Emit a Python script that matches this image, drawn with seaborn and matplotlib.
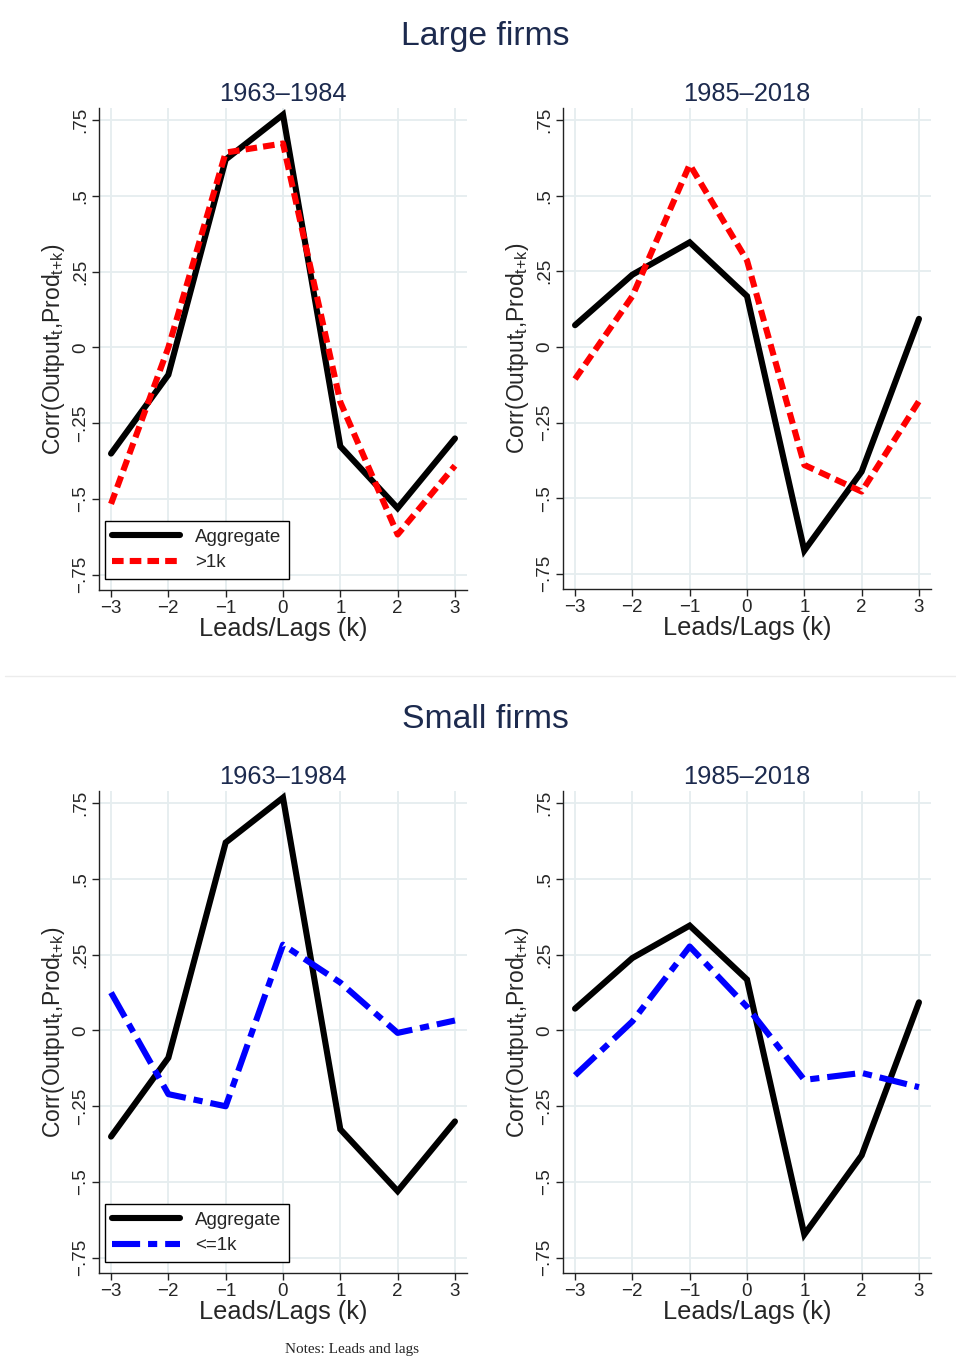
import numpy as np
import pandas as pd
import matplotlib
matplotlib.use("Agg")
import matplotlib.pyplot as plt
from matplotlib.lines import Line2D
import seaborn as sns

sns.set_style("white")
plt.rcParams['font.family'] = ['Liberation Sans', 'DejaVu Sans']
plt.rcParams['mathtext.default'] = 'regular'

# ---- data ----
k = [-3, -2, -1, 0, 1, 2, 3]
agg_6384 = [-0.35, -0.09, 0.62, 0.768, -0.326, -0.53, -0.30]
large_6384 = [-0.516, 0.0, 0.643, 0.673, -0.18, -0.617, -0.39]
small_6384 = [0.125, -0.21, -0.25, 0.283, 0.158, -0.008, 0.033]
agg_8518 = [0.072, 0.239, 0.346, 0.168, -0.673, -0.412, 0.093]
large_8518 = [-0.106, 0.168, 0.603, 0.286, -0.39, -0.478, -0.179]
small_8518 = [-0.148, 0.03, 0.277, 0.078, -0.163, -0.14, -0.187]

period_titles = ["1963\u20131984", "1985\u20132018"]
group_titles = ["Large firms", "Small firms"]
yticks = [-0.75, -0.5, -0.25, 0, 0.25, 0.5, 0.75]
ytick_labels = ["\u2212.75", "\u2212.5", "\u2212.25", "0", ".25", ".5", ".75"]
xtick_labels = ["\u22123", "\u22122", "\u22121", "0", "1", "2", "3"]

W, H = 956, 1357
fig = plt.figure(figsize=(W / 100, H / 100), dpi=100)

navy = '#1c2a4e'
grid_c = '#e5edef'

def ax_at(x0, y0, x1, y1):
    return fig.add_axes([x0 / W, 1 - y1 / H, (x1 - x0) / W, (y1 - y0) / H])

panels = [
    (99, 108, 467, 590, agg_6384, large_6384, 'large', 0, True),
    (563, 108, 931, 589, agg_8518, large_8518, 'large', 1, False),
    (99, 791, 467, 1273, agg_6384, small_6384, 'small', 0, True),
    (563, 791, 931, 1273, agg_8518, small_8518, 'small', 1, False),
]

lw = 4.4
for (x0, y0, x1, y1, agg, grp, kind, pi, show_leg) in panels:
    ax = ax_at(x0, y0, x1, y1)
    ax.set_xlim(-3.21, 3.21)
    ax.set_ylim(-0.80, 0.79)
    ax.set_xticks(k)
    ax.set_yticks(yticks)
    ax.grid(True, color=grid_c, lw=1.3)
    ax.set_axisbelow(True)
    df = pd.DataFrame({'k': k, 'agg': agg, 'grp': grp})
    sns.lineplot(data=df, x='k', y='agg', ax=ax, color='black', lw=lw,
                 solid_joinstyle='miter', label='Aggregate', legend=False)
    if kind == 'large':
        sns.lineplot(data=df, x='k', y='grp', ax=ax, color='#ff0000', lw=lw,
                     linestyle=(0, (1.9, 1.0)), dash_capstyle='butt',
                     label='>1k', legend=False)
    else:
        sns.lineplot(data=df, x='k', y='grp', ax=ax, color='#0000ff', lw=lw,
                     linestyle=(0, (4.6, 1.3, 1.5, 1.3)), dash_capstyle='butt',
                     label='<=1k', legend=False)
    ax.set_xticklabels(xtick_labels, fontsize=13.5)
    ax.set_yticklabels(ytick_labels, fontsize=13.5, rotation=90, va='center')
    ax.tick_params(axis='both', direction='out', length=5, width=1,
                   color='#222222', pad=2, left=True, bottom=True)
    for s in ['top', 'right']:
        ax.spines[s].set_visible(False)
    for s in ['left', 'bottom']:
        ax.spines[s].set_color('#222222')
        ax.spines[s].set_linewidth(1.0)
    ax.set_xlabel('Leads/Lags (k)', fontsize=18.3, labelpad=0)
    ax.set_ylabel(r'Corr(Output$_t$,Prod$_{t{+}k}$)', fontsize=16.5, labelpad=4)
    ax.set_title(period_titles[pi], fontsize=18.3, color=navy, pad=5)
    if show_leg:
        leg = ax.legend(loc='lower left', bbox_to_anchor=(0.016, 0.023),
                        borderaxespad=0, fontsize=13.5, handlelength=3.6,
                        frameon=True, fancybox=False, edgecolor='black',
                        framealpha=1, borderpad=0.4, labelspacing=0.45,
                        handletextpad=0.8)
        leg.get_frame().set_linewidth(1.0)

fig.text(485 / W, 1 - 36 / H, group_titles[0], fontsize=24.3, color=navy,
         ha='center', va='center')
fig.text(485 / W, 1 - 719 / H, group_titles[1], fontsize=24.3, color=navy,
         ha='center', va='center')

fig.add_artist(Line2D([5 / W, 1], [1 - 676 / H, 1 - 676 / H],
                      color='#ececec', lw=1))

fig.text(285 / W, 1 - 1356 / H, 'Notes: Leads and lags',
         fontsize=11, family='Liberation Serif', ha='left', va='bottom')

fig.savefig('out.png', dpi=100)
